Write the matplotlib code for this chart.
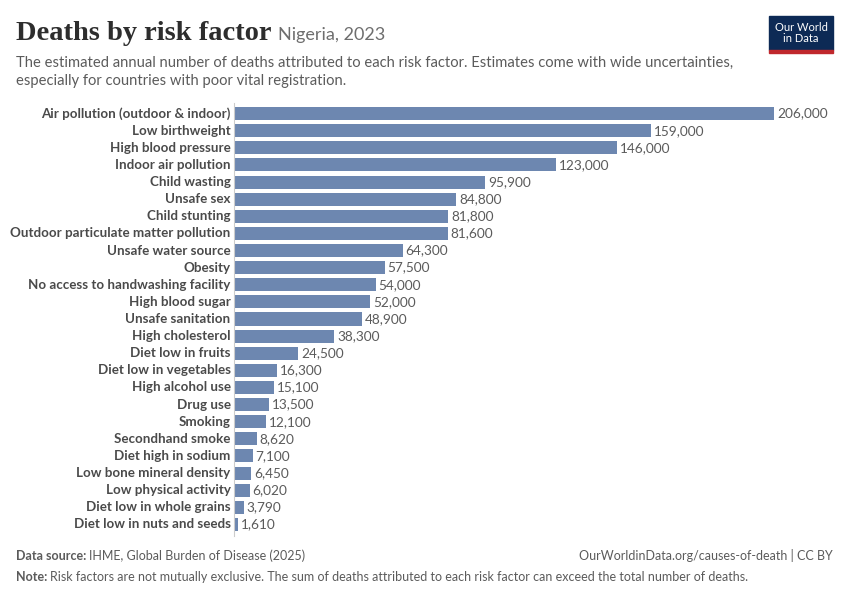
import matplotlib
matplotlib.use('Agg')
import matplotlib.pyplot as plt
from matplotlib.patches import Rectangle

# Datos
factors = [
    "Air pollution (outdoor & indoor)", "Low birthweight", "High blood pressure",
    "Indoor air pollution", "Child wasting", "Unsafe sex", "Child stunting",
    "Outdoor particulate matter pollution", "Unsafe water source", "Obesity",
    "No access to handwashing facility", "High blood sugar", "Unsafe sanitation",
    "High cholesterol", "Diet low in fruits", "Diet low in vegetables",
    "High alcohol use", "Drug use", "Smoking", "Secondhand smoke",
    "Diet high in sodium", "Low bone mineral density", "Low physical activity",
    "Diet low in whole grains", "Diet low in nuts and seeds",
]
deaths = [206000, 159000, 146000, 123000, 95900, 84800, 81800, 81600, 64300,
          57500, 54000, 52000, 48900, 38300, 24500, 16300, 15100, 13500, 12100,
          8620, 7100, 6450, 6020, 3790, 1610]

plt.rcParams['font.family'] = ['Lato', 'DejaVu Sans']

fig = plt.figure(figsize=(8.5, 6), dpi=100)
W, H = 850, 600
renderer = fig.canvas.get_renderer()


def after(txt, gap=4):
    # x (fraccion de figura) justo despues de un texto
    bb = txt.get_window_extent(renderer=renderer)
    return (bb.x1 + gap) / W


# Ejes: barras de x=234 a x=774 px
left, right = 234, 774
top, bottom = 105, 533
ax = fig.add_axes([left / W, 1 - bottom / H, (right - left) / W, (bottom - top) / H])

y = list(range(len(factors)))
ax.barh(y, deaths, height=0.76, color='#6d87b0')
ax.set_xlim(0, max(deaths))
ax.set_ylim(len(factors) - 0.5, -0.5)

for yi, v, name in zip(y, deaths, factors):
    ax.text(v + 1100, yi, f"{v:,}", va='center', ha='left', fontsize=9.8,
            color='#5b5b5b', clip_on=False)
    ax.text(-1300, yi, name, va='center', ha='right', fontsize=9.6,
            color='#4a4a4a', fontweight='bold', clip_on=False)

ax.set_xticks([])
ax.set_yticks([])
for s in ['top', 'right', 'bottom']:
    ax.spines[s].set_visible(False)
ax.spines['left'].set_color('#cccccc')
ax.spines['left'].set_bounds(-0.6, len(factors) - 0.3)

# Titulo y subtitulo
t = fig.text(16 / W, 1 - 40 / H, "Deaths by risk factor", fontsize=20.5,
             family=['Liberation Serif'], fontweight='bold', color='#2d2d2d',
             va='baseline')
fig.text(after(t, 6), 1 - 40 / H, "Nigeria, 2023", fontsize=13,
         color='#6e6e6e', va='baseline')
fig.text(16 / W, 1 - 67 / H,
         "The estimated annual number of deaths attributed to each risk factor. "
         "Estimates come with wide uncertainties,", fontsize=10.6,
         color='#5b5b5b', va='baseline')
fig.text(16 / W, 1 - 85 / H,
         "especially for countries with poor vital registration.", fontsize=10.6,
         color='#5b5b5b', va='baseline')

# Logo
fig.patches.append(Rectangle((769 / W, 1 - 50 / H), 64 / W, 34 / H,
                             transform=fig.transFigure, color='#0d2a55'))
fig.patches.append(Rectangle((769 / W, 1 - 53 / H), 64 / W, 3 / H,
                             transform=fig.transFigure, color='#c0282d'))
fig.text(801 / W, 1 - 33 / H, "Our World\nin Data", fontsize=8,
         color='white', ha='center', va='center', linespacing=1.0)

# Pie
t = fig.text(16 / W, 1 - 560 / H, "Data source:", fontsize=9, color='#5b5b5b',
             fontweight='bold', va='baseline')
fig.text(after(t, 3), 1 - 560 / H, "IHME, Global Burden of Disease (2025)",
         fontsize=9, color='#5b5b5b', va='baseline')
fig.text(833 / W, 1 - 560 / H, "OurWorldinData.org/causes-of-death | CC BY",
         fontsize=9, color='#5b5b5b', ha='right', va='baseline')
t = fig.text(16 / W, 1 - 581 / H, "Note:", fontsize=9, color='#5b5b5b',
             fontweight='bold', va='baseline')
fig.text(after(t, 3), 1 - 581 / H,
         "Risk factors are not mutually exclusive. The sum of deaths attributed "
         "to each risk factor can exceed the total number of deaths.",
         fontsize=9, color='#5b5b5b', va='baseline')

fig.savefig('out.png', dpi=100, facecolor='white')
